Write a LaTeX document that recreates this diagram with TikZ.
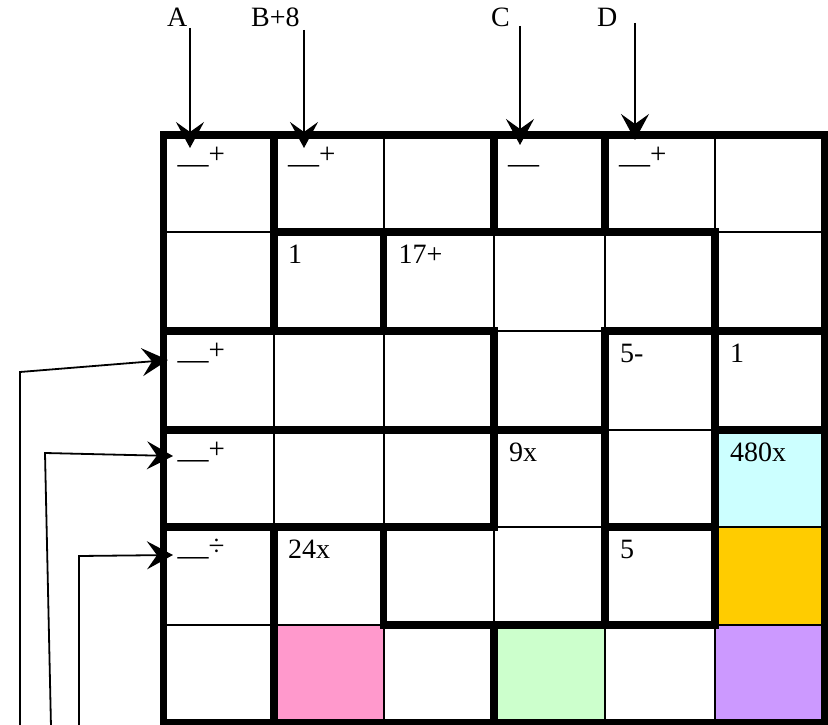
\documentclass[tikz,border=0pt]{standalone}
\usepackage{fontspec}
\setmainfont{Liberation Serif}
\usetikzlibrary{arrows.meta}
\definecolor{cwcyan}{HTML}{CCFFFF}
\definecolor{cworange}{HTML}{FFCC00}
\definecolor{cwpink}{HTML}{FF99CC}
\definecolor{cwgreen}{HTML}{CCFFCC}
\definecolor{cwpurple}{HTML}{CC99FF}
\newcommand\cwblank{{\fontsize{31}{31}\selectfont\raisebox{-7.5pt}{—}}}
\newcommand\cwsup[1]{\raisebox{3pt}{\fontsize{29}{29}\selectfont #1}}
\begin{document}
\begin{tikzpicture}[x=1pt,y=-1pt,
  thingrid/.style={line width=2pt},
  thickgrid/.style={line width=7.5pt, line cap=rect},
  arr/.style={line width=1.8pt, -{Stealth[length=26pt,width=28pt,inset=10pt]}},
  lbl/.style={anchor=base west, inner sep=0pt, font=\fontsize{28}{32}\selectfont},
  celltext/.style={anchor=base west, inner sep=0pt, font=\fontsize{28}{32}\selectfont}]
\useasboundingbox (0,0) rectangle (828,725);
% column and row positions
\def\Xa{163.5}\def\Xb{274}\def\Xc{383.5}\def\Xd{494}\def\Xe{605}\def\Xf{715}\def\Xg{825}
\def\Ya{135}\def\Yb{232}\def\Yc{331}\def\Yd{430}\def\Ye{527}\def\Yf{625}\def\Yg{723}
% fills
\fill[cwcyan] (\Xf,\Yd) rectangle (\Xg,\Ye);
\fill[cworange] (\Xf,\Ye) rectangle (\Xg,\Yf);
\fill[cwpink] (\Xb,\Yf) rectangle (\Xc,\Yg);
\fill[cwgreen] (\Xd,\Yf) rectangle (\Xe,\Yg);
\fill[cwpurple] (\Xf,\Yf) rectangle (\Xg,\Yg);
% thin grid
\foreach \x in {\Xb,\Xc,\Xd,\Xe,\Xf} \draw[thingrid] (\x,\Ya) -- (\x,\Yg);
\foreach \y in {\Yb,\Yc,\Yd,\Ye,\Yf} \draw[thingrid] (\Xa,\y) -- (\Xg,\y);
% thick borders
\draw[thickgrid] (\Xa,\Ya) rectangle (\Xg,\Yg);
% thick horizontal segments
\draw[thickgrid] (\Xb,\Yb) -- (\Xf,\Yb);
\draw[thickgrid] (\Xa,\Yc) -- (\Xd,\Yc);
\draw[thickgrid] (\Xe,\Yc) -- (\Xg,\Yc);
\draw[thickgrid] (\Xa,\Yd) -- (\Xe,\Yd);
\draw[thickgrid] (\Xf,\Yd) -- (\Xg,\Yd);
\draw[thickgrid] (\Xa,\Ye) -- (\Xd,\Ye);
\draw[thickgrid] (\Xe,\Ye) -- (\Xf,\Ye);
\draw[thickgrid] (\Xc,\Yf) -- (\Xf,\Yf);
% thick vertical segments
\draw[thickgrid] (\Xb,\Ya) -- (\Xb,\Yc);
\draw[thickgrid] (\Xb,\Ye) -- (\Xb,\Yg);
\draw[thickgrid] (\Xc,\Yb) -- (\Xc,\Yc);
\draw[thickgrid] (\Xc,\Ye) -- (\Xc,\Yf);
\draw[thickgrid] (\Xd,\Ya) -- (\Xd,\Yb);
\draw[thickgrid] (\Xd,\Yc) -- (\Xd,\Ye);
\draw[thickgrid] (\Xd,\Yf) -- (\Xd,\Yg);
\draw[thickgrid] (\Xe,\Ya) -- (\Xe,\Yb);
\draw[thickgrid] (\Xe,\Yc) -- (\Xe,\Yf);
\draw[thickgrid] (\Xf,\Yb) -- (\Xf,\Yf);
% cell texts
\node[celltext] (r1c1) at (\Xa+14,\Ya+31) {\cwblank\cwsup{+}};
\node[celltext] (r1c2) at (\Xb+14,\Ya+31) {\cwblank\cwsup{+}};
\node[celltext] (r1c4) at (\Xd+14,\Ya+31) {\cwblank};
\node[celltext] (r1c5) at (\Xe+14,\Ya+31) {\cwblank\cwsup{+}};
\node[celltext] (r2c2) at (\Xb+14,\Yb+31) {1};
\node[celltext] (r2c3) at (\Xc+15,\Yb+31) {17+};
\node[celltext] (r3c1) at (\Xa+14,\Yc+31) {\cwblank\cwsup{+}};
\node[celltext] (r3c5) at (\Xe+15,\Yc+31) {5-};
\node[celltext] (r3c6) at (\Xf+15,\Yc+31) {1};
\node[celltext] (r4c1) at (\Xa+14,\Yd+31) {\cwblank\cwsup{+}};
\node[celltext] (r4c4) at (\Xd+15,\Yd+31) {9x};
\node[celltext] (r4c6) at (\Xf+15,\Yd+31) {480x};
\node[celltext] (r5c1) at (\Xa+14,\Ye+31) {\cwblank\cwsup{÷}};
\node[celltext] (r5c2) at (\Xb+14,\Ye+31) {24x};
\node[celltext] (r5c5) at (\Xe+15,\Ye+31) {5};
% top labels
\node[lbl] (labA) at (167,27) {A};
\node[lbl] (labB) at (251,27) {B+8};
\node[lbl] (labC) at (491,27) {C};
\node[lbl] (labD) at (597,27) {D};
% arrow coordinates
\coordinate (sA) at (190,28);  \coordinate (tA) at (190,148);
\coordinate (sB) at (304,30);  \coordinate (tB) at (304,148);
\coordinate (sC) at (520,26);  \coordinate (tC) at (520,145);
\coordinate (sD) at (635,23);  \coordinate (tD) at (635,140);
\draw[arr] (sA) -- (tA);
\draw[arr] (sB) -- (tB);
\draw[arr] (sC) -- (tC);
\draw[arr] (sD) -- (tD);
% left arrows
\coordinate (b1) at (20,727);  \coordinate (k1) at (20,372);  \coordinate (t1) at (168,360);
\coordinate (b2) at (51,727);  \coordinate (k2) at (45,453);  \coordinate (t2) at (173,456);
\coordinate (b3) at (79,727);  \coordinate (k3) at (79,556);  \coordinate (t3) at (173,555);
\draw[arr] (b1) -- (k1) -- (t1);
\draw[arr] (b2) -- (k2) -- (t2);
\draw[arr] (b3) -- (k3) -- (t3);
\end{tikzpicture}
\end{document}
